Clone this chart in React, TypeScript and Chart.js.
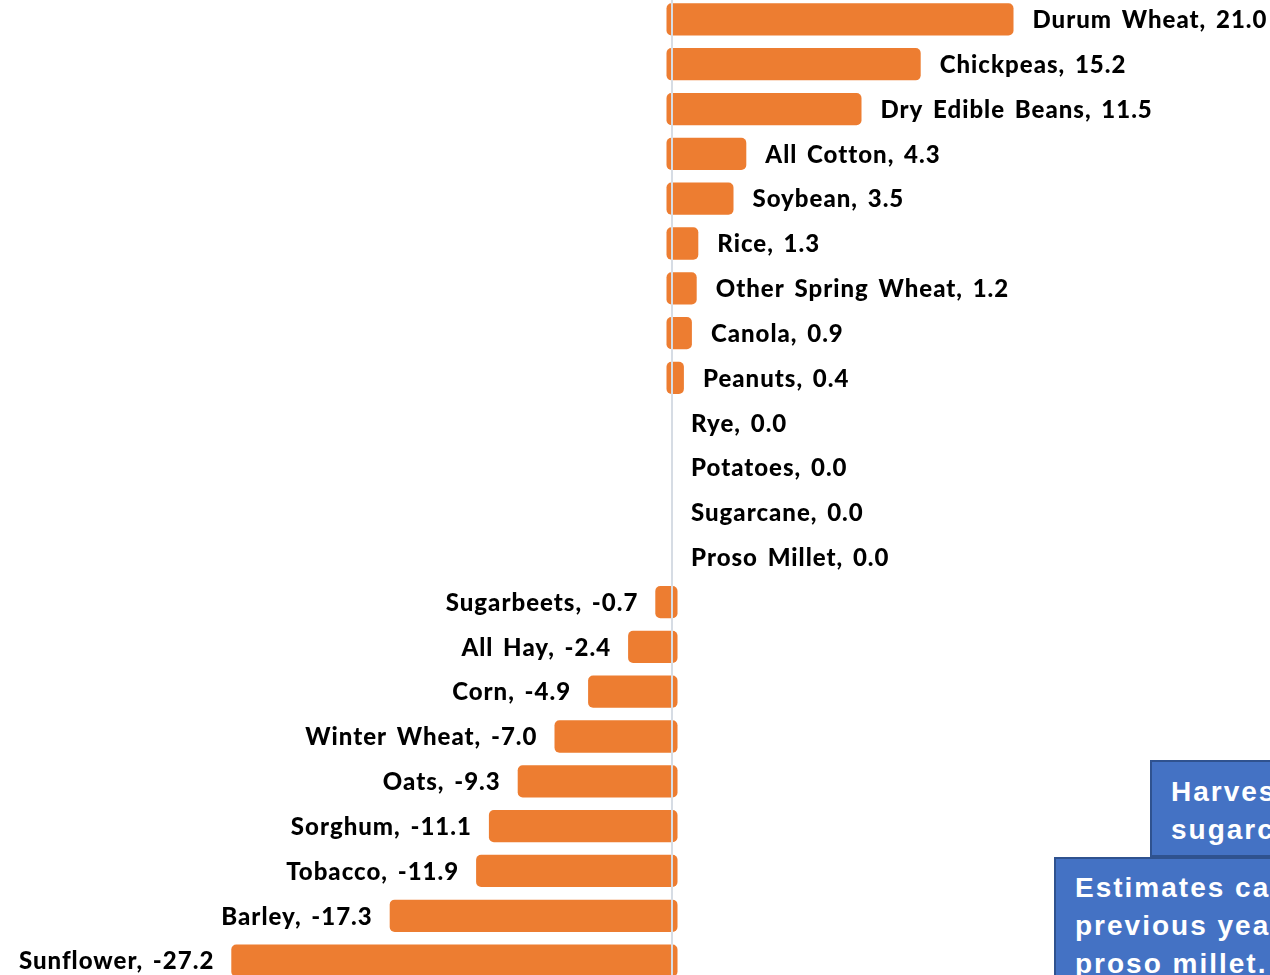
import React, { useEffect, useRef } from "react";
import { Chart, registerables } from "chart.js";

Chart.register(...registerables);

const categories = [
  "Durum Wheat", "Chickpeas", "Dry Edible Beans", "All Cotton", "Soybean", "Rice",
  "Other Spring Wheat", "Canola", "Peanuts", "Rye", "Potatoes", "Sugarcane", "Proso Millet",
  "Sugarbeets", "All Hay", "Corn", "Winter Wheat", "Oats", "Sorghum", "Tobacco", "Barley", "Sunflower",
];
const changes = [
  21.0, 15.2, 11.5, 4.3, 3.5, 1.3, 1.2, 0.9, 0.4, 0.0, 0.0, 0.0, 0.0,
  -0.7, -2.4, -4.9, -7.0, -9.3, -11.1, -11.9, -17.3, -27.2,
];
const noteSugarcane = ["Harvested area used for", "sugarcane."];
const noteEstimates = ["Estimates carried forward from", "previous year for rye, potatoes, and", "proso millet."];

const ORANGE = "#ED7D31";
const LABEL_FONT = "900 24px Lato, 'Noto Sans', sans-serif";
const EXT = 5.5;

const barPlugin = {
  id: "barTweaks",
  afterDatasetsUpdate(chart: any) {
    const meta = chart.getDatasetMeta(0);
    const zero = chart.scales.x.getPixelForValue(0);
    meta.data.forEach((el: any, i: number) => {
      const v = changes[i];
      const px = chart.scales.x.getPixelForValue(v);
      if (v > 0) {
        el.base = zero - EXT;
        el.x = px + EXT;
      } else if (v < 0) {
        el.base = zero + EXT;
        el.x = px - EXT;
      }
    });
  },
  afterDatasetsDraw(chart: any) {
    const ctx = chart.ctx;
    const zero = chart.scales.x.getPixelForValue(0);
    ctx.save();
    ctx.strokeStyle = "#D6DCE4";
    ctx.lineWidth = 2;
    ctx.beginPath();
    ctx.moveTo(zero, 0);
    ctx.lineTo(zero, chart.height);
    ctx.stroke();
    ctx.fillStyle = "#000000";
    ctx.font = LABEL_FONT;
    try {
      (ctx as any).letterSpacing = "1px";
      (ctx as any).wordSpacing = "3px";
    } catch (e) {}
    ctx.textBaseline = "middle";
    const meta = chart.getDatasetMeta(0);
    meta.data.forEach((el: any, i: number) => {
      const v = changes[i];
      const text = `${categories[i]}, ${v.toFixed(1)}`;
      if (v >= 0) {
        ctx.textAlign = "left";
        ctx.fillText(text, el.x + 19, el.y + 1);
      } else {
        ctx.textAlign = "right";
        ctx.fillText(text, el.x - 17, el.y + 1);
      }
    });
    ctx.restore();
  },
};

export default function App() {
  const ref = useRef<HTMLCanvasElement | null>(null);
  useEffect(() => {
    if (!ref.current) return;
    const chart = new Chart(ref.current, {
      type: "bar",
      data: {
        labels: categories,
        datasets: [
          {
            data: changes,
            backgroundColor: (c: any) => (changes[c.dataIndex] === 0 ? "rgba(0,0,0,0)" : ORANGE),
            borderWidth: 0,
            borderRadius: 5,
            borderSkipped: false,
            categoryPercentage: 1,
            barPercentage: 0.72,
          },
        ],
      },
      options: {
        indexAxis: "y",
        animation: false,
        responsive: false,
        devicePixelRatio: 1,
        layout: { padding: 0 },
        plugins: { legend: { display: false }, tooltip: { enabled: false } },
        scales: {
          x: { display: false, min: -42, max: 37.375 },
          y: { display: false },
        },
      },
      plugins: [barPlugin],
    });
    return () => chart.destroy();
  }, []);

  const boxText: React.CSSProperties = {
    fontFamily: "'Liberation Sans', Arial, sans-serif",
    fontWeight: "bold",
    fontSize: 28,
    lineHeight: "38px",
    letterSpacing: "2px",
    color: "#FFFFFF",
    whiteSpace: "nowrap",
  };

  return (
    <div style={{ position: "fixed", left: 0, top: 0, width: 1270, height: 975, overflow: "hidden", background: "#FFFFFF" }}>
      <canvas ref={ref} width={1270} height={986} style={{ position: "absolute", left: 0, top: -3, width: 1270, height: 986 }} />
      <div
        style={{
          ...boxText,
          position: "absolute", left: 1150, top: 760, width: 600, height: 97, boxSizing: "border-box",
          background: "#4472C4", border: "2px solid #2F528F", padding: "11px 0 0 19px",
        }}
      >
        {noteSugarcane.map((l, i) => <div key={i}>{l}</div>)}
      </div>
      <div
        style={{
          ...boxText,
          position: "absolute", left: 1054, top: 857, width: 700, height: 200, boxSizing: "border-box",
          background: "#4472C4", border: "2px solid #2F528F", padding: "10px 0 0 19px",
        }}
      >
        {noteEstimates.map((l, i) => <div key={i}>{l}</div>)}
      </div>
    </div>
  );
}
